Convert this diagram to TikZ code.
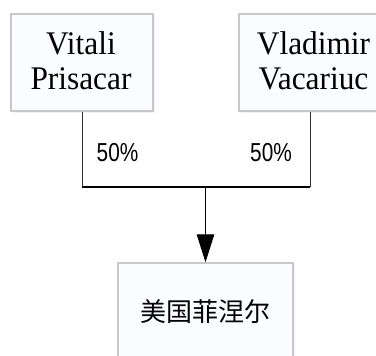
\documentclass[tikz,border=0pt]{standalone}
\usepackage{fontspec}
\usetikzlibrary{arrows.meta,shadows}
\newfontfamily\namefont[FakeStretch=0.95]{Liberation Serif}
\newfontfamily\pctfont[FakeStretch=0.8]{Liberation Sans}
\newfontfamily\cjkfont{Noto Sans CJK SC}
\definecolor{boxline}{HTML}{C8C8C8}
\definecolor{boxfill}{HTML}{FAFCFF}
\definecolor{conn}{HTML}{303030}
\tikzset{
  box/.style={draw=boxline, line width=2pt, fill=boxfill, inner sep=0pt,
    drop shadow={shadow xshift=1.5pt, shadow yshift=-2pt, fill=blue!25, opacity=0.2}},
  topbox/.style={box, minimum width=142pt, minimum height=97pt},
  nametext/.style={inner sep=0pt, align=center, font=\namefont\fontsize{33}{35}\selectfont},
  pcttext/.style={inner sep=0pt, anchor=base west, font=\pctfont\fontsize{26}{28}\selectfont},
  cjktext/.style={inner sep=0pt, anchor=base, font=\cjkfont\fontsize{26}{28}\selectfont},
  thinline/.style={draw=conn, line width=1pt},
}
\begin{document}
\begin{tikzpicture}[x=1pt,y=-1pt]
\useasboundingbox (0,0) rectangle (376,356);
\clip (0,0) rectangle (376,356);
\fill[white] (0,0) rectangle (376,356);
\node[topbox] (L) at (82,62.5) {};
\node[topbox] (R) at (310.3,62.5) {};
\node[box, minimum width=175.6pt, minimum height=97pt] (B) at (205.5,311.8) {};
\node[nametext, anchor=base] (Lt) at (81,54.3) {Vitali};
\node[nametext, anchor=base] (Lt2) at (81,89) {Prisacar};
\node[nametext, anchor=base] (Rt) at (313.5,54.3) {Vladimir};
\node[nametext, anchor=base] (Rt2) at (313.5,89) {Vacariuc};
\node[cjktext] (Bt) at (205.5,321.5) {美国菲涅尔};
\coordinate (jl) at (82,187);
\coordinate (jr) at (310.3,187);
\coordinate (jm) at (205.5,187);
\draw[thinline] (L.south) -- (jl);
\draw[thinline] (R.south) -- (jr);
\draw[black, line width=2pt] (jl) -- (jr);
\draw[black, line width=1pt, -{Triangle[length=28pt,width=17.5pt]}] (jm) -- (B.north);
\node[pcttext] (p1) at (96.5,161) {50\%};
\node[pcttext] (p2) at (250,161) {50\%};
\end{tikzpicture}
\end{document}
